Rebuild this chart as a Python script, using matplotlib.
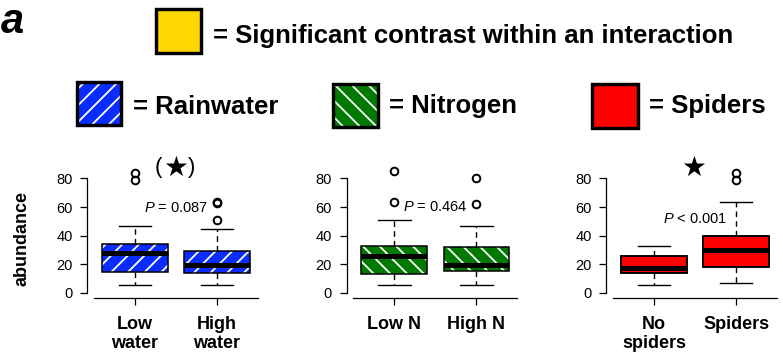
import matplotlib
matplotlib.use('Agg')
import matplotlib.pyplot as plt
from matplotlib.patches import Rectangle, PathPatch

plt.rcParams['font.family'] = ['Liberation Sans', 'DejaVu Sans']
plt.rcParams['hatch.linewidth'] = 1.3
plt.rcParams['mathtext.fontset'] = 'custom'
plt.rcParams['mathtext.it'] = 'Liberation Sans:italic'
plt.rcParams['mathtext.rm'] = 'Liberation Sans'

# ---------------- data ----------------
categories = [["Low\nwater", "High\nwater"], ["Low N", "High N"], ["No\nspiders", "Spiders"]]
whislo = [[5.8, 5.8], [5.8, 5.8], [5.8, 7.2]]
q1 = [[14.7, 14.2], [13.5, 15.3], [13.7, 17.9]]
med = [[27.9, 19.3], [26.0, 19.5], [17.4, 30.2]]
q3 = [[34.0, 29.3], [33.0, 32.0], [25.8, 39.5]]
whishi = [[47.0, 44.9], [51.0, 47.0], [33.0, 63.3]]
fliers = [[[79, 84], [51.2, 62.5, 63.5]],
          [[63.3, 85], [62, 80]],
          [[], [79, 84]]]
p_texts = ["$P$ = 0.087", "$P$ = 0.464", "$P$ < 0.001"]
p_y = [59.3, 60.0, 51.7]
yticks = [0, 20, 40, 60, 80]
colors = ["#0a2cff", "#007a00", "#ff0000"]
hatches = ["//", "\\\\", None]
legend_labels = ["= Rainwater", "= Nitrogen", "= Spiders"]

W, H = 783, 354
fig = plt.figure(figsize=(W / 100, H / 100), dpi=100)

def px(x, y):
    return x / W, 1 - y / H

left_px = [87.4, 346.7, 606.4]
ax_w = 177.2
bottom_px = 298
ylo, yhi = -3.5, 90
ax_h = (yhi - ylo) * 1.4325

for i in range(3):
    ax = fig.add_axes([left_px[i] / W, 1 - bottom_px / H, ax_w / W, ax_h / H])
    stats = []
    for j in range(2):
        stats.append(dict(whislo=whislo[i][j], q1=q1[i][j], med=med[i][j],
                          q3=q3[i][j], whishi=whishi[i][j], fliers=fliers[i][j]))
    res = ax.bxp(stats, positions=[1, 2], widths=0.8, capwidths=0.4, patch_artist=True,
                 whiskerprops=dict(color='black', lw=1.0, linestyle=(0, (4, 3))),
                 capprops=dict(color='black', lw=1.0),
                 medianprops=dict(color='black', lw=3.6, solid_capstyle='butt', zorder=4),
                 flierprops=dict(marker='o', markerfacecolor='none', markeredgecolor='black',
                                 markersize=5.5, markeredgewidth=1.4))
    for b in res['boxes']:
        b.set_facecolor(colors[i])
        if hatches[i]:
            b.set_edgecolor('white')
            b.set_hatch(hatches[i])
            b.set_linewidth(0)
        else:
            b.set_edgecolor('black')
            b.set_linewidth(1.1)
        outline = PathPatch(b.get_path(), transform=b.get_transform(), fill=False,
                            edgecolor='black', lw=1.1, zorder=3)
        ax.add_patch(outline)
    ax.set_xlim(0.42, 2.58)
    ax.set_ylim(ylo, yhi)
    ax.set_yticks(yticks)
    ax.set_xticks([1, 2])
    ax.set_xticklabels(categories[i], fontweight='bold', fontsize=13, linespacing=1.12)
    ax.tick_params(axis='y', labelsize=10.5, length=5, width=0.9, pad=5.5)
    ax.tick_params(axis='x', length=5, width=0.9, pad=8)
    for s in ['top', 'right']:
        ax.spines[s].set_visible(False)
    ax.spines['left'].set_bounds(0, 80)
    ax.spines['bottom'].set_bounds(0.5, 2.5)
    ax.spines['left'].set_linewidth(0.9)
    ax.spines['bottom'].set_linewidth(0.9)
    ax.patch.set_visible(False)
    ax.text(1.5, p_y[i], p_texts[i], ha='center', va='center', fontsize=10.5)
    if i == 0:
        ax.text(1.49, 87.3, "\u2605", ha='center', va='center', fontsize=20,
                family=['DejaVu Sans'])
        ax.text(1.29, 87.8, "(", ha='center', va='center', fontsize=16)
        ax.text(1.69, 87.8, ")", ha='center', va='center', fontsize=16)
    if i == 2:
        ax.text(1.48, 87.3, "\u2605", ha='center', va='center', fontsize=20,
                family=['DejaVu Sans'])

fig.text(22 / W, 1 - 239 / H, "abundance", rotation=90, ha='center', va='center',
         fontsize=13, fontweight='bold')

# ---------------- legend squares ----------------
def square(x0, y0, x1, y1, color, hatch):
    lw_px = 3.4
    inset = lw_px / 2
    xa, ya = px(x0 + inset, y1 - inset)
    w = (x1 - x0 - lw_px) / W
    h = (y1 - y0 - lw_px) / H
    fill = Rectangle((xa, ya), w, h, transform=fig.transFigure, facecolor=color,
                     edgecolor='white' if hatch else color, hatch=hatch, lw=0)
    fig.patches.append(fill)
    border = Rectangle((xa, ya), w, h, transform=fig.transFigure, fill=False,
                       edgecolor='black', lw=lw_px * 0.72)
    fig.patches.append(border)

square(154, 7.3, 202.7, 54.3, "#ffd700", None)
fig.text(212.7 / W, 1 - 42.7 / H, "= Significant contrast within an interaction",
         fontsize=18.5, fontweight='bold', ha='left', va='baseline')

sq = [(75, 80.7, 123, 126.7), (331.7, 82.7, 380, 129), (590.7, 82.7, 640, 130)]
tx = [132.7, 389, 649]
for k in range(3):
    square(*sq[k], colors[k], hatches[k])
    fig.text(tx[k] / W, 1 - 113.5 / H, legend_labels[k], fontsize=18.5,
             fontweight='bold', ha='left', va='baseline')

fig.text(1 / W, 1 - 33 / H, "a", fontsize=30, fontweight='bold', style='italic',
         ha='left', va='baseline')

fig.savefig("out.png", dpi=100)
